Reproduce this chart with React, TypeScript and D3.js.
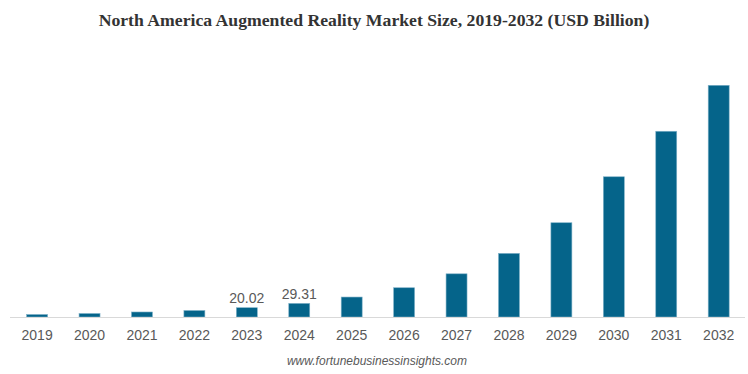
import React from "react";
import * as d3 from "d3";

const years = ["2019","2020","2021","2022","2023","2024","2025","2026","2027","2028","2029","2030","2031","2032"];
const values = [5.4, 7.5, 10.8, 14.0, 20.02, 29.31, 43, 63, 93, 137, 203, 302, 400, 499];
const labeledYears = ["2023", "2024"];

const W = 748, H = 374;
const baseY = 317;
const topY = 85.3;

export default function App() {
  const x = d3.scaleBand<string>().domain(years).range([10.9, 744.9]).paddingInner(0.6).paddingOuter(0.3);
  const y = d3.scaleLinear().domain([0, 499]).range([baseY, topY]);
  return (
    <svg width={W} height={H} style={{ position: "absolute", left: 0, top: 0 }}>
      <rect width={W} height={H} fill="#ffffff" />
      <text x={374} y={26} textAnchor="middle" fontFamily="'Liberation Serif', 'Times New Roman', serif" fontWeight="bold" fontSize={17.7} fill="#333333">
        North America Augmented Reality Market Size, 2019-2032 (USD Billion)
      </text>
      {years.map((yr, i) => (
        <rect key={yr} x={x(yr)!} y={y(values[i])} width={x.bandwidth()} height={baseY - y(values[i])}
          fill="#05648a" stroke="#7fb1c8" strokeWidth={0.6} />
      ))}
      <line x1={10} x2={745} y1={baseY + 0.5} y2={baseY + 0.5} stroke="#d9d9d9" strokeWidth={1} />
      {years.map((yr) => (
        <text key={"t" + yr} x={x(yr)! + x.bandwidth() / 2} y={340} textAnchor="middle"
          fontFamily="'Liberation Sans', Arial, sans-serif" fontSize={14} fill="#595959">{yr}</text>
      ))}
      {years.map((yr, i) => labeledYears.includes(yr) ? (
        <text key={"l" + yr} x={x(yr)! + x.bandwidth() / 2} y={y(values[i]) - 4.5} textAnchor="middle"
          fontFamily="'Liberation Sans', Arial, sans-serif" fontSize={14} fill="#595959">{values[i].toFixed(2)}</text>
      ) : null)}
      <text x={377} y={365} textAnchor="middle" fontFamily="'Liberation Sans', Arial, sans-serif" fontStyle="italic" fontSize={12} fill="#595959">
        www.fortunebusinessinsights.com
      </text>
    </svg>
  );
}
